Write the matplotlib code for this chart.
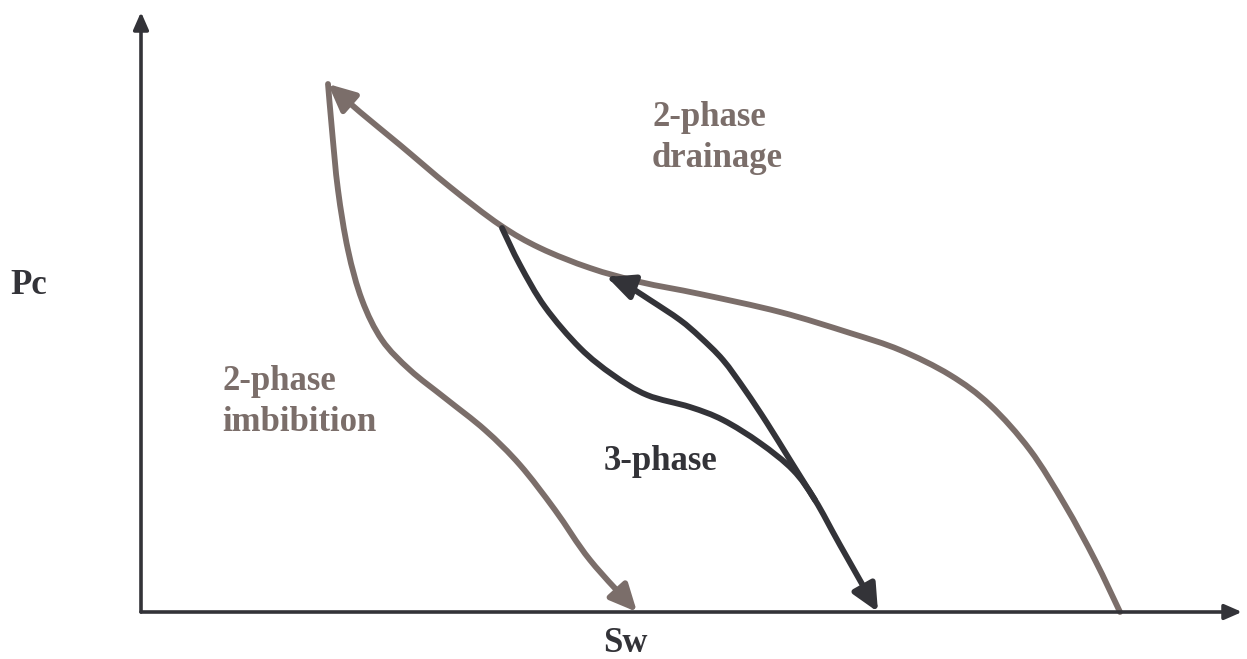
import matplotlib.pyplot as plt
from matplotlib.path import Path
from matplotlib.patches import FancyArrowPatch

# curve points (Sw, Pc in arbitrary units, origin at axes corner)
drain2_sw = [979, 954, 924, 889, 849, 809, 759, 709, 639, 559, 499, 449, 399, 359, 309, 259, 219, 187]
drain2_pc = [0, 52, 107, 162, 207, 237, 262, 279, 300, 318, 330, 344, 364, 387, 425, 467, 500, 528]

imb2_sw = [187, 191, 197, 207, 221, 241, 269, 304, 344, 379, 414, 449, 496]
imb2_pc = [528, 482, 422, 362, 312, 272, 242, 214, 182, 147, 102, 52, 0]

imb3_sw = [361, 379, 404, 439, 472, 506, 549, 582, 619, 652, 674, 699, 737]
imb3_pc = [384, 347, 305, 264, 237, 217, 205, 192, 169, 142, 112, 67, 0]

drain3_sw = [674, 649, 626, 604, 582, 559, 539, 509, 482, 466]
drain3_pc = [112, 152, 189, 222, 252, 275, 292, 312, 329, 335]

BROWN = '#7b6e6a'
DARK = '#333338'

plt.rcParams['font.family'] = 'Liberation Serif'

fig = plt.figure(figsize=(12.47, 6.59), dpi=100)
ax = fig.add_axes([0, 0, 1, 1])
ax.set_xlim(-141, 1106)
ax.set_ylim(-47, 612)
ax.axis('off')


def smooth_path(sw, pc):
    # catmull-rom through the read points, drawn as cubic bezier segments
    pts = list(zip(sw, pc))
    n = len(pts)
    verts = [pts[0]]
    codes = [Path.MOVETO]
    for i in range(n - 1):
        p0 = pts[max(i - 1, 0)]
        p1 = pts[i]
        p2 = pts[i + 1]
        p3 = pts[min(i + 2, n - 1)]
        c1 = (p1[0] + (p2[0] - p0[0]) / 6, p1[1] + (p2[1] - p0[1]) / 6)
        c2 = (p2[0] - (p3[0] - p1[0]) / 6, p2[1] - (p3[1] - p1[1]) / 6)
        verts += [c1, c2, p2]
        codes += [Path.CURVE4] * 3
    return Path(verts, codes)


def curve(sw, pc, color):
    arr = FancyArrowPatch(path=smooth_path(sw, pc),
                          arrowstyle='-|>,head_length=0.85,head_width=0.4',
                          mutation_scale=19, color=color, lw=4.2)
    ax.add_patch(arr)


# axes with arrows
for tip in [(0, 600), (1101, 0)]:
    ax.annotate('', xy=tip, xytext=(0, 0),
                arrowprops=dict(arrowstyle='-|>,head_length=0.8,head_width=0.35',
                                color=DARK, lw=2.6, mutation_scale=13,
                                shrinkA=0, shrinkB=0))

curve(drain2_sw, drain2_pc, BROWN)
curve(imb2_sw, imb2_pc, BROWN)
curve(imb3_sw, imb3_pc, DARK)
curve(drain3_sw, drain3_pc, DARK)

fs = 25
ax.text(-131, 327, 'Pc', fontsize=fs, fontweight='bold', color=DARK, ha='left', va='center')
ax.text(484, -31, 'Sw', fontsize=fs, fontweight='bold', color=DARK, ha='center', va='center')
ax.text(511, 474, '2-phase\ndrainage', fontsize=fs, fontweight='bold', color=BROWN,
        ha='left', va='center', linespacing=1.35)
ax.text(81, 210, '2-phase\nimbibition', fontsize=fs, fontweight='bold', color=BROWN,
        ha='left', va='center', linespacing=1.32)
ax.text(463, 150, '3-phase', fontsize=fs, fontweight='bold', color=DARK, ha='left', va='center')

plt.savefig('out.png', dpi=100)
